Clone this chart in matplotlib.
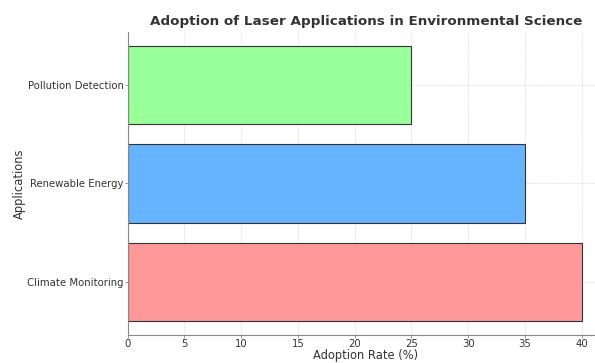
import matplotlib.pyplot as plt

applications = ["Climate Monitoring", "Renewable Energy", "Pollution Detection"]
adoption = [40, 35, 25]
colors = ["#ff9999", "#66b3ff", "#99ff99"]

fig = plt.figure(figsize=(5.95, 3.63), dpi=100)
ax = fig.add_axes([0.2146, 0.077, 0.801, 0.835])

ax.barh(applications, adoption, color=colors, edgecolor="#333333", linewidth=0.8, height=0.8)
ax.set_xlim(0, 42)
ax.set_xticks(range(0, 41, 5))

ax.set_title("Adoption of Laser Applications in Environmental Science",
             fontsize=9.7, fontweight="bold", color="#333333", pad=5)
ax.set_xlabel("Adoption Rate (%)", fontsize=8.3, color="#333333", labelpad=0)
ax.set_ylabel("Applications", fontsize=8.3, color="#333333", labelpad=1)

ax.tick_params(labelsize=7.3, colors="#333333", length=2, width=0.6, pad=1)
ax.tick_params(axis="both", color="#888888")
ax.grid(True, linestyle="--", color="#cccccc", linewidth=0.5, alpha=0.7)
ax.set_axisbelow(True)
for side in ["top", "right"]:
    ax.spines[side].set_visible(False)
for side in ["left", "bottom"]:
    ax.spines[side].set_color("#888888")
    ax.spines[side].set_linewidth(0.8)

fig.savefig("out.png")
